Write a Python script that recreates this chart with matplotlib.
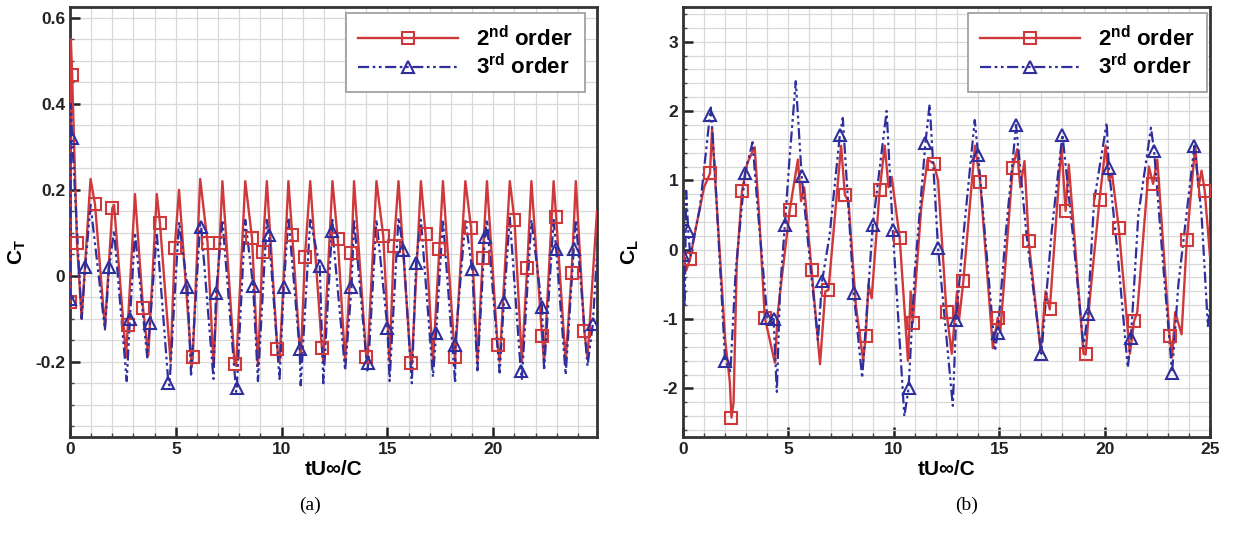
import numpy as np
import matplotlib
matplotlib.use("Agg")
import matplotlib.pyplot as plt
from matplotlib.lines import Line2D
from matplotlib.ticker import MultipleLocator

plt.rcParams['font.family'] = ['Liberation Sans', 'DejaVu Sans']
plt.rcParams['font.weight'] = 'bold'
plt.rcParams['mathtext.fontset'] = 'custom'
plt.rcParams['mathtext.bf'] = 'Liberation Sans:bold'
plt.rcParams['mathtext.rm'] = 'Liberation Sans:bold'
plt.rcParams['mathtext.default'] = 'bf'
plt.rcParams['axes.unicode_minus'] = False

# ---------------- (a) thrust coefficient C_T ----------------
# 2nd order: peaks / troughs of the curve
ct2_t = [0.04, 0.55, 0.97, 1.65, 2.08, 2.65, 3.07, 3.7, 4.1, 4.75, 5.15, 5.75,
         6.15, 6.78, 7.2, 7.85, 8.28, 8.88, 9.3, 9.9, 10.32, 10.9, 11.35, 11.97,
         12.4, 13.0, 13.42, 14.05, 14.48, 15.1, 15.52, 16.15, 16.58, 17.15, 17.62,
         18.2, 18.68, 19.25, 19.7, 20.3, 20.78, 21.35, 21.8, 22.4, 22.85, 23.42,
         23.9, 24.45, 24.9]
ct2_v = [0.55, -0.1, 0.225, -0.12, 0.165, -0.19, 0.19, -0.185, 0.19, -0.2, 0.2, -0.21,
         0.225, -0.21, 0.22, -0.21, 0.22, -0.21, 0.22, -0.2, 0.22, -0.2, 0.22, -0.2,
         0.22, -0.2, 0.22, -0.2, 0.22, -0.2, 0.22, -0.205, 0.22, -0.2, 0.22,
         -0.2, 0.22, -0.2, 0.22, -0.2, 0.22, -0.2, 0.22, -0.2, 0.22, -0.2,
         0.22, -0.19, 0.15]
# 2nd order: square symbols
ct2_mt = [0.0, 0.1, 0.33, 1.18, 2.0, 2.73, 3.45, 4.25, 4.95, 5.8, 6.5, 7.07, 7.78,
          8.6, 9.1, 9.8, 10.5, 11.1, 11.9, 12.65, 13.3, 14.0, 14.8, 15.3, 16.1,
          16.8, 17.45, 18.2, 18.95, 19.5, 20.2, 21.0, 21.6, 22.3, 22.97, 23.7, 24.3]
ct2_mv = [-0.06, 0.467, 0.077, 0.167, 0.157, -0.115, -0.074, 0.122, 0.065, -0.19,
          0.077, 0.077, -0.206, 0.088, 0.056, -0.171, 0.095, 0.044, -0.167, 0.085,
          0.053, -0.19, 0.093, 0.069, -0.204, 0.097, 0.062, -0.19, 0.111, 0.042,
          -0.16, 0.13, 0.018, -0.139, 0.136, 0.007, -0.129]

# 3rd order: peaks / troughs
ct3_t = [0.04, 0.55, 0.97, 1.65, 2.08, 2.68, 3.07, 3.65, 4.1, 4.7, 5.15, 5.72,
         6.15, 6.78, 7.2, 7.85, 8.28, 8.88, 9.3, 9.9, 10.32, 10.9, 11.35, 11.97,
         12.4, 13.0, 13.42, 14.05, 14.48, 15.1, 15.52, 16.15, 16.58, 17.15, 17.62,
         18.2, 18.68, 19.25, 19.7, 20.3, 20.78, 21.35, 21.8, 22.4, 22.85, 23.42,
         23.9, 24.45, 24.9]
ct3_v = [0.4, -0.1, 0.165, -0.125, 0.105, -0.245, 0.1, -0.19, 0.1, -0.255, 0.125, -0.23,
         0.12, -0.24, 0.13, -0.27, 0.13, -0.245, 0.13, -0.24, 0.135, -0.255, 0.13, -0.25,
         0.13, -0.22, 0.13, -0.22, 0.13, -0.245, 0.135, -0.25, 0.13, -0.235, 0.13,
         -0.25, 0.13, -0.22, 0.13, -0.225, 0.135, -0.24, 0.13, -0.22, 0.13, -0.23,
         0.13, -0.21, 0.05]
ct3_mt = [0.0, 0.1, 0.72, 1.85, 2.83, 3.78, 4.65, 5.55, 6.2, 6.9, 7.88, 8.65, 9.4,
          10.1, 10.85, 11.8, 12.4, 13.3, 14.1, 15.0, 15.75, 16.35, 17.3, 18.2, 19.0,
          19.6, 20.5, 21.3, 22.3, 22.97, 23.8, 24.7]
ct3_mv = [-0.055, 0.32, 0.02, 0.02, -0.1, -0.11, -0.25, -0.027, 0.113, -0.039, -0.26,
          -0.023, 0.095, -0.025, -0.171, 0.023, 0.104, -0.027, -0.203, -0.122, 0.06,
          0.03, -0.134, -0.16, 0.016, 0.09, -0.062, -0.222, -0.072, 0.062, 0.062, -0.113]

# ---------------- (b) lift coefficient C_L ----------------
cl2_t = [0.0, 0.15, 0.6, 1.0, 1.38, 1.55, 2.0, 2.22, 2.4, 2.55, 3.05, 3.4, 3.6, 4.36,
         4.5, 4.65, 5.45, 5.6, 5.75, 6.5, 6.75, 7.5, 7.85, 8.2, 8.55, 8.8, 8.95, 9.57,
         9.75, 9.9, 10.67, 10.8, 11.3, 11.6, 12.1, 12.75, 13.0, 13.1, 13.85, 14.7,
         15.05, 15.85, 16.0, 16.2, 16.97, 17.2, 17.95, 18.3, 19.0, 19.3, 20.05, 20.2,
         20.35, 21.2, 21.55, 22.1, 22.5, 23.2, 23.35, 23.65, 24.3, 24.45, 24.6, 25.0]
cl2_v = [-0.05, -0.3, 0.3, 0.9, 1.75, 0.9, -1.3, -1.9, -2.2, -0.2, 1.25, 1.48, 0.55, -1.63,
         -0.9, -0.5, 1.3, 0.7, 0.9, -1.65, -0.6, 1.5, 0.7, -0.8, -1.6, -0.5, -0.7, 1.5,
         0.9, 1.05, -1.6, -0.6, 0.6, 1.3, 1.0, -1.5, -0.6, -1.0, 1.5, -1.42,
         -1.2, 1.45, 0.9, 1.28, -1.47, -0.6, 1.5, 1.23, -1.5, -0.7, 1.5, 1.0,
         1.1, -1.5, -0.9, 1.2, 1.3, -1.55, -0.9, -1.22, 1.5, 0.9, 1.14, -0.1]
cl2_mt = [0.33, 1.28, 2.3, 2.8, 3.88, 5.07, 6.1, 6.9, 7.68, 8.67, 9.33, 10.28, 10.9,
          11.9, 12.5, 13.3, 14.1, 14.93, 15.64, 16.4, 17.4, 18.15, 19.1, 19.76, 20.67,
          21.4, 22.3, 23.08, 23.9, 24.75]
cl2_mv = [-0.14, 1.1, -2.42, 0.85, -0.98, 0.58, -0.29, -0.58, 0.79, -1.24, 0.86, 0.17,
          -1.05, 1.24, -0.9, -0.45, 0.98, -0.98, 1.18, 0.12, -0.86, 0.56, -1.51, 0.72,
          0.32, -1.03, 0.95, -1.24, 0.14, 0.85]

cl3_t = [0.08, 0.15, 0.35, 0.5, 0.8, 1.32, 1.5, 2.25, 2.5, 3.3, 3.55, 4.45, 4.6, 5.05,
         5.35, 5.9, 6.4, 6.95, 7.58, 8.5, 9.66, 10.5, 11.0, 11.7, 12.8, 13.3, 13.84,
         14.8, 15.3, 16.3, 17.5, 18.5, 19.0, 19.5, 20.1, 20.6, 21.1, 21.6, 22.2, 22.8,
         23.5, 24.6, 24.9, 25.0]
cl3_v = [-0.8, 0.85, -0.1, 0.15, 0.6, 2.05, 1.2, -1.75, -0.3, 1.55, 0.57, -2.05, -0.6, 1.3,
         2.43, 0.2, -1.3, 0.2, 1.9, -1.85, 2.0, -2.4, -0.3, 2.1, -2.25, 0.2, 1.87,
         -1.46, 0.2, 0.2, 0.3, 0.2, -1.4, 0.7, 1.83, 0.0, -1.7, 0.5, 1.76, -0.3,
         -0.5, 0.5, -1.1, -0.8]
cl3_mt = [0.0, 0.25, 1.28, 2.0, 2.94, 4.0, 4.3, 4.83, 5.63, 6.6, 7.44, 8.1, 9.0, 9.95,
          10.7, 11.5, 12.1, 12.95, 14.0, 14.93, 15.8, 17.0, 18.0, 19.2, 20.2, 21.25,
          22.35, 23.2, 24.26]
cl3_mv = [-0.07, 0.27, 1.95, -1.6, 1.1, -0.98, -1.0, 0.35, 1.06, -0.45, 1.65, -0.62, 0.35,
          0.29, -2.0, 1.54, 0.03, -1.02, 1.37, -1.2, 1.8, -1.5, 1.66, -0.93, 1.18, -1.27,
          1.42, -1.77, 1.5]

labels = ['2$^{nd}$ order', '3$^{rd}$ order']

red = '#d0393b'
blue = '#2e2f9c'
dash3 = (0, (5, 1.6, 1.2, 1.6, 1.2, 1.6))


def merged(t, v, mt, mv):
    tt = np.concatenate([t, mt])
    vv = np.concatenate([v, mv])
    o = np.argsort(tt, kind='stable')
    return tt[o], vv[o]


def draw(ax, s2, s3):
    t, v = merged(*s2)
    ax.plot(t, v, color=red, lw=1.7, zorder=3)
    ax.plot(s2[2], s2[3], ls='none', marker='s', ms=8, mfc='none', mec=red, mew=1.5, zorder=4)
    t, v = merged(*s3)
    ax.plot(t, v, color=blue, lw=1.6, ls=dash3, zorder=3)
    ax.plot(s3[2], s3[3], ls='none', marker='^', ms=8.5, mfc='none', mec=blue, mew=1.5, zorder=4)


def style(ax, ylab, xmax, ymin, ymax, ymaj, ymin_step, lg_x):
    ax.set_xlim(0, xmax)
    ax.set_ylim(ymin, ymax)
    ax.xaxis.set_major_locator(MultipleLocator(5))
    ax.xaxis.set_minor_locator(MultipleLocator(1))
    ax.yaxis.set_major_locator(MultipleLocator(ymaj))
    ax.yaxis.set_minor_locator(MultipleLocator(ymin_step))
    ax.grid(which='both', color='#d9d9d9', lw=0.9, zorder=0)
    ax.tick_params(which='major', direction='in', length=7, width=1.8, labelsize=12.5,
                   top=False, right=False, colors='#222')
    ax.tick_params(which='minor', direction='in', length=3, width=1, top=False, right=False,
                   colors='#444')
    for sp in ax.spines.values():
        sp.set_linewidth(2)
        sp.set_color('#333')
    ax.set_xlabel('tU∞/C', fontsize=15, fontweight='bold', labelpad=2)
    ax.set_ylabel(ylab, fontsize=15, fontweight='bold')
    ax.yaxis.set_label_coords(-0.08, 0.43)
    handles = [Line2D([], [], color=red, lw=1.7, marker='s', ms=8, mfc='none', mec=red, mew=1.5),
               Line2D([], [], color=blue, lw=1.6, ls=dash3, marker='^', ms=8.5, mfc='none',
                      mec=blue, mew=1.5)]
    lg = ax.legend(handles, labels, loc='upper right', bbox_to_anchor=(lg_x, 0.985),
                   fancybox=False, framealpha=1, edgecolor='#9a9a9a', fontsize=16,
                   handlelength=4.5, numpoints=1, borderpad=0.55, labelspacing=0.15,
                   handletextpad=0.8, borderaxespad=0)
    lg.get_frame().set_linewidth(1.2)
    for tx in lg.get_texts():
        tx.set_fontweight('bold')
    lg.set_zorder(10)


fig = plt.figure(figsize=(12.34, 5.33), dpi=100)
ax1 = fig.add_axes([70 / 1234, 96 / 533, 527 / 1234, 430 / 533])
ax2 = fig.add_axes([683 / 1234, 96 / 533, 527 / 1234, 430 / 533])

draw(ax1, (ct2_t, ct2_v, ct2_mt, ct2_mv), (ct3_t, ct3_v, ct3_mt, ct3_mv))
style(ax1, 'C$_T$', 24.9, -0.375, 0.625, 0.2, 0.05, 0.977)
ax1.set_yticks([-0.2, 0, 0.2, 0.4, 0.6])
ax1.set_yticklabels(['-0.2', '0', '0.2', '0.4', '0.6'])

draw(ax2, (cl2_t, cl2_v, cl2_mt, cl2_mv), (cl3_t, cl3_v, cl3_mt, cl3_mv))
style(ax2, 'C$_L$', 25, -2.7, 3.5, 1, 0.2, 0.994)

for ax in (ax1, ax2):
    for lb in ax.get_xticklabels() + ax.get_yticklabels():
        lb.set_fontweight('bold')

fig.text(310 / 1234, 1 - 505 / 533, '(a)', ha='center', va='center', fontsize=14,
         family='Liberation Serif', fontweight='normal')
fig.text(967 / 1234, 1 - 505 / 533, '(b)', ha='center', va='center', fontsize=14,
         family='Liberation Serif', fontweight='normal')

fig.savefig('out.png', dpi=100)
